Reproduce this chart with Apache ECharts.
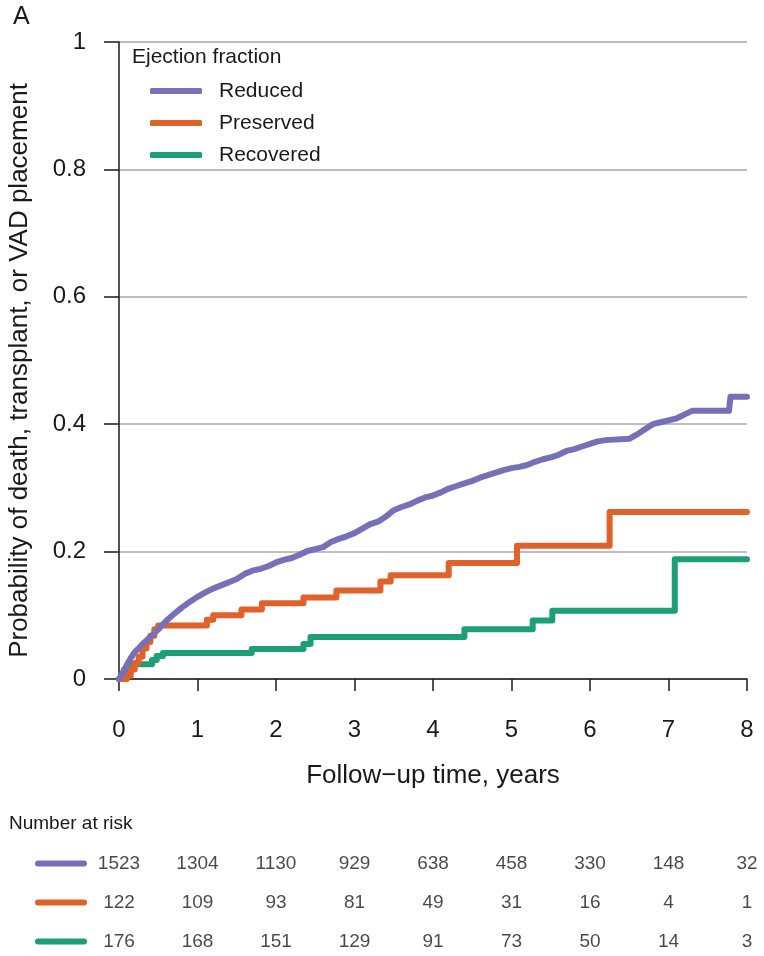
<!DOCTYPE html>
<html>
<head>
<meta charset="utf-8">
<script src="https://cdn.jsdelivr.net/npm/echarts@6/dist/echarts.min.js"></script>
<style>
  html, body { margin: 0; padding: 0; background: #fff; }
  #chart { width: 764px; height: 956px; }
</style>
</head>
<body>
<div id="chart"></div>
<script>
const groups = ['Reduced', 'Preserved', 'Recovered'];
const colors = ['#7570b8', '#e0622a', '#1c9e77'];

// [years, cumulative probability]
const reducedCurve = [
  [0, 0], [0.05, 0.01], [0.1, 0.022], [0.15, 0.033], [0.2, 0.042], [0.25, 0.048],
  [0.3, 0.055], [0.4, 0.066], [0.5, 0.078], [0.6, 0.091], [0.7, 0.102], [0.8, 0.112],
  [0.9, 0.121], [1.0, 0.129], [1.1, 0.136], [1.2, 0.142], [1.3, 0.147], [1.4, 0.152],
  [1.5, 0.157], [1.6, 0.165], [1.7, 0.17], [1.8, 0.173], [1.9, 0.177], [2.0, 0.183],
  [2.1, 0.187], [2.2, 0.19], [2.3, 0.195], [2.4, 0.201], [2.5, 0.204], [2.6, 0.207],
  [2.7, 0.215], [2.8, 0.22], [2.9, 0.224], [3.0, 0.229], [3.1, 0.236], [3.2, 0.243],
  [3.3, 0.247], [3.4, 0.255], [3.5, 0.265], [3.6, 0.27], [3.7, 0.274], [3.8, 0.28],
  [3.9, 0.285], [4.0, 0.288], [4.1, 0.293], [4.2, 0.299], [4.3, 0.303], [4.4, 0.307],
  [4.5, 0.311], [4.6, 0.316], [4.7, 0.32], [4.8, 0.324], [4.9, 0.328], [5.0, 0.331],
  [5.1, 0.333], [5.2, 0.336], [5.3, 0.341], [5.4, 0.345], [5.5, 0.348], [5.6, 0.352],
  [5.7, 0.358], [5.8, 0.361], [5.9, 0.365], [6.0, 0.369], [6.1, 0.373], [6.2, 0.375],
  [6.5, 0.377], [6.6, 0.384], [6.7, 0.392], [6.8, 0.4], [6.9, 0.403], [7.0, 0.406],
  [7.1, 0.409], [7.2, 0.415], [7.3, 0.421], [7.77, 0.421], [7.79, 0.443], [8.0, 0.443]
];
const preservedCurve = [
  [0, 0], [0.1, 0.005], [0.15, 0.015], [0.2, 0.025], [0.25, 0.035], [0.3, 0.048],
  [0.35, 0.058], [0.4, 0.068], [0.45, 0.078], [0.5, 0.084], [1.12, 0.093], [1.2, 0.1],
  [1.56, 0.109], [1.82, 0.119], [2.35, 0.128], [2.77, 0.139], [3.33, 0.153], [3.46, 0.163],
  [4.2, 0.182], [5.07, 0.209], [6.25, 0.262], [8.0, 0.262]
];
const recoveredCurve = [
  [0, 0], [0.03, 0.008], [0.06, 0.014], [0.1, 0.019], [0.15, 0.023], [0.42, 0.03],
  [0.48, 0.036], [0.56, 0.041], [1.69, 0.047], [2.35, 0.055], [2.44, 0.066], [4.4, 0.078],
  [5.27, 0.092], [5.52, 0.107], [7.08, 0.188], [8.0, 0.188]
];

const riskYears = [0, 1, 2, 3, 4, 5, 6, 7, 8];
const riskReduced = [1523, 1304, 1130, 929, 638, 458, 330, 148, 32];
const riskPreserved = [122, 109, 93, 81, 49, 31, 16, 4, 1];
const riskRecovered = [176, 168, 151, 129, 91, 73, 50, 14, 3];

const curves = [reducedCurve, preservedCurve, recoveredCurve];
const risks = [riskReduced, riskPreserved, riskRecovered];
const font = '"Liberation Sans", Arial, Helvetica, sans-serif';
const ink = '#1a1a1a';

const chart = echarts.init(document.getElementById('chart'));

// the reduced group has many tiny events, so it reads as a nearly smooth line
const lineSeries = groups.map((name, i) => ({
  name: name,
  type: 'line',
  step: i === 0 ? false : 'end',
  xAxisIndex: 0,
  yAxisIndex: 0,
  data: curves[i],
  showSymbol: false,
  symbol: 'none',
  color: colors[i],
  lineStyle: { width: 6, color: colors[i], cap: 'round', join: 'round' },
  z: 5 - i
}));

const riskData = [];
risks.forEach((arr, r) => {
  arr.forEach((v, k) => riskData.push([riskYears[k], groups[r], v]));
});

const rich = {};
groups.forEach((g, i) => {
  rich['k' + i] = { width: 52, height: 6, backgroundColor: colors[i], borderRadius: 3 };
});

const option = {
  animation: false,
  textStyle: { fontFamily: font, color: ink },
  graphic: [
    { type: 'text', left: 13, top: 5, style: { text: 'A', font: '25px ' + font, fill: ink } },
    { type: 'text', left: 132, top: 47, style: { text: 'Ejection fraction', font: '21px ' + font, fill: ink } },
    { type: 'text', left: 9, top: 814, style: { text: 'Number at risk', font: '19px ' + font, fill: ink } }
  ],
  legend: {
    data: groups,
    orient: 'vertical',
    left: 145,
    top: 74,
    itemWidth: 52,
    itemHeight: 6,
    itemGap: 8,
    icon: 'roundRect',
    textStyle: { fontSize: 21, color: ink, fontFamily: font, lineHeight: 24, padding: [0, 0, 0, 12] }
  },
  grid: [
    { left: 119, right: 17, top: 42, bottom: 277, containLabel: false, outerBoundsMode: 'none' },
    { left: 119, right: 17, top: 844, height: 117, containLabel: false, outerBoundsMode: 'none' }
  ],
  xAxis: [
    {
      type: 'value',
      gridIndex: 0,
      min: 0,
      max: 8,
      interval: 1,
      name: 'Follow\u2212up time, years',
      nameLocation: 'middle',
      nameGap: 84,
      nameTextStyle: { fontSize: 26, color: ink, fontFamily: font },
      axisLine: { show: true, onZero: false, lineStyle: { color: ink, width: 1.5 } },
      axisTick: { show: true, length: 12, lineStyle: { color: ink, width: 1.5 } },
      axisLabel: { fontSize: 24, color: ink, margin: 39, fontFamily: font },
      splitLine: { show: false }
    },
    {
      type: 'value',
      gridIndex: 1,
      min: 0,
      max: 8,
      show: false
    }
  ],
  yAxis: [
    {
      type: 'value',
      gridIndex: 0,
      min: 0,
      max: 1,
      interval: 0.2,
      name: 'Probability of death, transplant, or VAD placement',
      nameLocation: 'middle',
      nameGap: 86,
      nameTextStyle: { fontSize: 26, color: ink, fontFamily: font, padding: [0, 20, 0, 0] },
      axisLine: { show: true, lineStyle: { color: ink, width: 1.5 } },
      axisTick: { show: true, length: 15, lineStyle: { color: ink, width: 1.5 } },
      axisLabel: { fontSize: 24, color: ink, margin: 33, fontFamily: font },
      splitLine: { show: true, lineStyle: { color: '#a8a8a8', width: 1.5 } }
    },
    {
      type: 'category',
      gridIndex: 1,
      data: groups,
      inverse: true,
      axisLine: { show: false },
      axisTick: { show: false },
      splitLine: { show: false },
      axisLabel: {
        margin: 32,
        formatter: (v) => '{k' + groups.indexOf(v) + '|}',
        rich: rich
      }
    }
  ],
  series: lineSeries.concat([{
    type: 'scatter',
    xAxisIndex: 1,
    yAxisIndex: 1,
    data: riskData,
    symbolSize: 1,
    itemStyle: { color: 'rgba(0,0,0,0)' },
    label: {
      show: true,
      position: 'inside',
      formatter: (p) => String(p.value[2]),
      fontSize: 19,
      color: ink,
      fontFamily: font
    },
    silent: true
  }])
};

chart.setOption(option);
</script>
</body>
</html>
